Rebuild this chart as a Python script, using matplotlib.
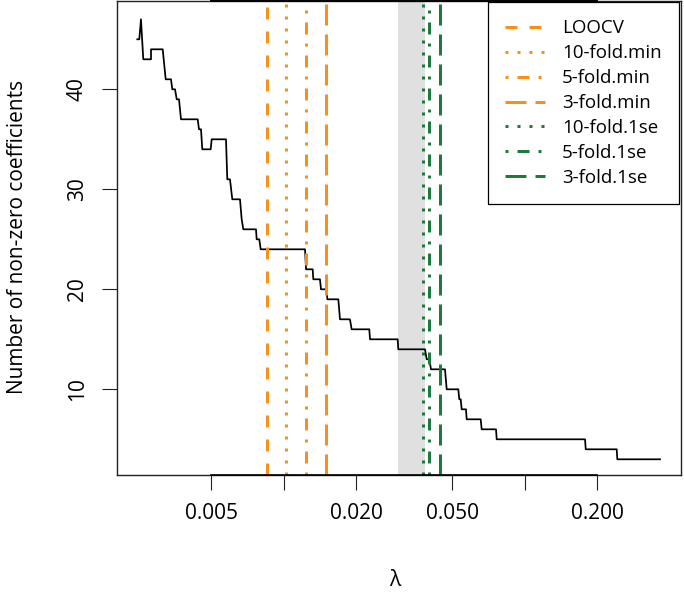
import matplotlib
matplotlib.use("Agg")
import matplotlib.pyplot as plt
from matplotlib.ticker import NullLocator

plt.rcParams['font.family'] = ['Open Sans', 'DejaVu Sans']

# lambda path and number of non-zero coefficients (vertices of the curve)
lam = [0.002462, 0.002509, 0.002550, 0.002607, 0.002807, 0.002807, 0.003139, 0.003230,
       0.003398, 0.003441, 0.003531, 0.003589, 0.003668, 0.003739, 0.004386, 0.004441,
       0.004527, 0.004584, 0.004967, 0.005014, 0.005749, 0.005821, 0.005973, 0.006106,
       0.006573, 0.006680, 0.006784, 0.007659, 0.007710, 0.007904, 0.008011, 0.01224,
       0.01236, 0.01317, 0.01325, 0.01412, 0.01426, 0.01506, 0.01515, 0.01683,
       0.01710, 0.01881, 0.01912, 0.02263, 0.02279, 0.02969, 0.02986, 0.03855,
       0.03918, 0.04017, 0.04083, 0.04667, 0.04744, 0.05300, 0.05351, 0.05423,
       0.05476, 0.05705, 0.05743, 0.06566, 0.06629, 0.07602, 0.07653, 0.1781,
       0.1793, 0.2411, 0.2425, 0.3648]
nonzero = [45, 45, 47, 43, 43, 44, 44, 41,
           41, 40, 40, 39, 39, 37, 37, 36,
           36, 34, 34, 35, 35, 31, 31, 29,
           29, 27, 26, 26, 25, 25, 24, 24,
           22, 22, 21, 21, 20, 20, 19, 19,
           17, 17, 16, 16, 15, 15, 14, 14,
           13, 13, 12, 12, 10, 10, 9, 9,
           8, 8, 7, 7, 6, 6, 5, 5,
           4, 4, 3, 3]

cv_labels = ["LOOCV", "10-fold.min", "5-fold.min", "3-fold.min",
             "10-fold.1se", "5-fold.1se", "3-fold.1se"]
cv_lambda = [0.00851, 0.01023, 0.01232, 0.01496, 0.03793, 0.03994, 0.04436]
band = [0.02978, 0.03855]

xticks = [0.005, 0.01, 0.02, 0.05, 0.1, 0.2]
xticklabels = ["0.005", "", "0.020", "0.050", "", "0.200"]
yticks = [10, 20, 30, 40]

orange = '#F7901A'
green = '#1B7A3C'
colors = [orange] * 4 + [green] * 3
styles = [(0, (4, 4)), (0, (1, 3)), (0, (1, 3, 4, 3)), (0, (7, 3)),
          (0, (1, 3)), (0, (1, 3, 4, 3)), (0, (7, 3))]

fig = plt.figure(figsize=(6.84, 5.96), dpi=100)
ax = fig.add_axes([116.5 / 684, 120.8 / 596, 564 / 684, 474.7 / 596])
ax.set_xscale('log')

ax.axvspan(band[0], band[1], color='#E0E0E0', lw=0, zorder=1)
ax.plot(lam, nonzero, color='black', lw=1.25, zorder=2)
for v, c, s, lab in zip(cv_lambda, colors, styles, cv_labels):
    ax.axvline(v, color=c, ls=s, lw=2.16, label=lab, zorder=3)

ax.set_xlim(0.002018, 0.4437)
ax.set_ylim(1.41, 48.88)
ax.set_xticks(xticks)
ax.set_xticklabels(xticklabels)
ax.xaxis.set_minor_locator(NullLocator())
ax.set_yticks(yticks)
ax.tick_params(length=10.8, width=0.8, labelsize=15, direction='out', color='#222222')
ax.tick_params(axis='x', pad=9)
ax.tick_params(axis='y', pad=10)
for t in ax.get_yticklabels():
    t.set_rotation(90)
    t.set_va('center')
for sp in ax.spines.values():
    sp.set_linewidth(1.0)
    sp.set_color('#222222')

# axis lines spanning tick range (R style)
ax.plot([xticks[0], xticks[-1]], [0, 0], transform=ax.get_xaxis_transform(),
        color='black', lw=1.2, clip_on=False, zorder=5)
ax.plot([xticks[0], xticks[-1]], [1, 1], transform=ax.get_xaxis_transform(),
        color='black', lw=1.4, clip_on=False, zorder=5)

leg = ax.legend(loc='upper right', borderaxespad=0.1, fancybox=False, edgecolor='black',
                framealpha=1, fontsize=13.5, handlelength=2.13, handletextpad=0.9,
                labelspacing=0.37, borderpad=0.9)
leg.get_frame().set_linewidth(0.9)

fig.text(18 / 684, 1 - 237 / 596, "Number of non-zero coefficients", rotation=90,
         ha='center', va='center', fontsize=15)
fig.text(395 / 684, 1 - 580 / 596, "λ", ha='center', va='center', fontsize=15)

fig.savefig("out.png", dpi=100)
